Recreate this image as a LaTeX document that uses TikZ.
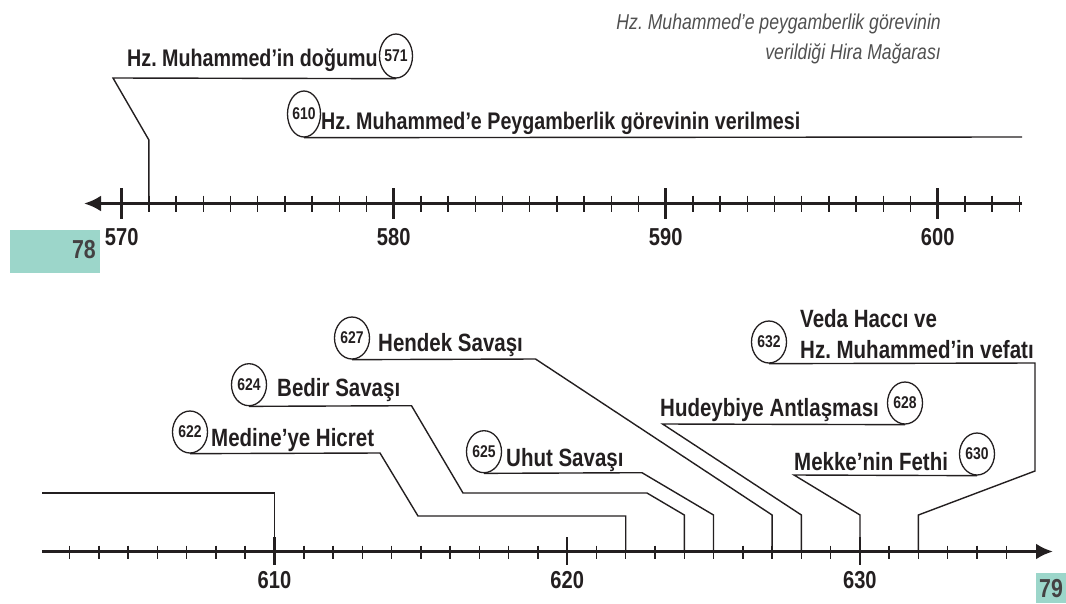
\documentclass[tikz,border=0pt]{standalone}
\usepackage{fontspec}
\setmainfont{Liberation Sans}[FakeStretch=0.82]
\usetikzlibrary{positioning}
\usetikzlibrary{arrows.meta,shapes.geometric}
\definecolor{ink}{RGB}{35,31,32}
\definecolor{pagetab}{RGB}{156,214,202}
\definecolor{notegray}{RGB}{80,80,80}
\frenchspacing

\begin{document}
\begin{tikzpicture}[x=1pt,y=-1pt,
  yearbub/.style={ellipse,draw=ink,line width=1.3pt,minimum width=35pt,minimum height=42pt,inner sep=0pt,text=ink,font=\fontsize{17}{17}\selectfont\bfseries},
  event/.style={anchor=base west,inner sep=0pt,text=ink,font=\fontsize{25}{28}\selectfont\bfseries},
  note/.style={anchor=base east,inner sep=0pt,text=notegray,font=\fontsize{21.5}{23}\selectfont\itshape},
  yearlbl/.style={anchor=base,inner sep=0pt,text=ink,font=\fontsize{24.5}{26}\selectfont\bfseries},
  pagenum/.style={anchor=base,inner sep=0pt,text=ink!85,font=\fontsize{26}{27}\selectfont\bfseries},
  axisline/.style={draw=ink,line width=3.2pt,-{Latex[length=17pt,width=16pt]}},
  minortick/.style={draw=ink,line width=1.5pt},
  majortick/.style={draw=ink,line width=2.5pt},
  link/.style={draw=ink,line width=1.4pt}]
\useasboundingbox (0,0) rectangle (1066,603);

% page tabs
\fill[pagetab] (10,230) rectangle (100,273);
\fill[pagetab] (1036,573) rectangle (1066,603);
\node[pagenum,anchor=base east] (p78) at (96,258) {78};
\node[pagenum] (p79) at (1051,597) {79};

% note on the cave
\node[note] (hira1) at (941,29) {Hz. Muhammed’e peygamberlik görevinin};
\node[note] (hira2) at (941,59) {verildiği Hira Mağarası};

% upper time line 570-603
\coordinate (topR) at (1022,203.5);
\coordinate (topL) at (84,203.5);
\foreach \yr in {571,...,603}
  \draw[minortick] ({121.7+(\yr-570)*27.2},195.5) -- ++(0,16);
\foreach \yr in {570,580,590,600}{
  \draw[majortick] ({121.7+(\yr-570)*27.2},188) -- ++(0,31);
  \node[yearlbl] (y\yr) at ({121.7+(\yr-570)*27.2},245) {\yr};
}
\draw[axisline] (topR) -- (topL);
\coordinate (t571) at (148.9,203.5);
\coordinate (end610) at (1022,137);

% lower time line 602-636
\coordinate (botL) at (42,551.5);
\coordinate (botR) at (1053,551.5);
\foreach \yr in {603,...,635}
  \draw[minortick] ({274.5+(\yr-610)*29.27},545.5) -- ++(0,13);
\foreach \yr in {610,620,630}{
  \draw[majortick] ({274.5+(\yr-610)*29.27},537) -- ++(0,28);
  \node[yearlbl] (y\yr) at ({274.5+(\yr-610)*29.27},588) {\yr};
}
\draw[axisline] (botL) -- (botR);
\coordinate (t610) at (274.5,551.5);
\coordinate (t622) at (625.7,551.5);
\coordinate (t624) at (684.3,551.5);
\coordinate (t625) at (713.5,551.5);
\coordinate (t627) at (772.1,551.5);
\coordinate (t628) at (801.4,551.5);
\coordinate (t630) at (860.0,551.5);
\coordinate (t632) at (918.4,551.5);
\coordinate (from610) at (42,493);

% events
\node[yearbub,minimum width=33pt,minimum height=44pt] (c571) at (396,56) {571};
\node[event,font=\fontsize{24}{27}\selectfont\bfseries] (l571) at (127,66) {Hz. Muhammed’in doğumu};
\node[yearbub,minimum width=33pt,minimum height=46pt] (c610) at (304,114) {610};
\node[event,font=\fontsize{24}{27}\selectfont\bfseries] (l610) at (321,129) {Hz. Muhammed’e Peygamberlik görevinin verilmesi};

\node[yearbub] (c622) at (190,432) {622};
\node[event] (l622) at (211,446) {Medine’ye Hicret};
\node[yearbub] (c624) at (249,384.7) {624};
\node[event] (l624) at (277,396) {Bedir Savaşı};
\node[yearbub] (c627) at (352,338) {627};
\node[event] (l627) at (378,351) {Hendek Savaşı};
\node[yearbub] (c625) at (484,451.7) {625};
\node[event] (l625) at (506,466) {Uhut Savaşı};
\node[yearbub] (c628) at (905,403) {628};
\node[event] (l628) at (660,416) {Hudeybiye Antlaşması};
\node[yearbub] (c630) at (977,454) {630};
\node[event] (l630) at (794,470) {Mekke’nin Fethi};
\node[yearbub] (c632) at (769,342) {632};
\node[event] (l632a) at (800,327) {Veda Haccı ve};
\node[event] (l632b) at (800,358) {Hz. Muhammed’in vefatı};

% connectors
\draw[link] (c571.south) -- (113,78) -- (148.9,140) -- (t571);
\draw[link] (c610.south) -- (end610);
\draw[link] (from610) -- (274.5,493) -- (t610);
\draw[link] (c622.south) -- (380,453) -- (418,516) -- (625.7,516) -- (t622);
\draw[link] (c624.south) -- (411.5,405.7) -- (463,493) -- (647,493) -- (684.3,515) -- (t624);
\draw[link] (c625.south) -- (642,472.7) -- (713.5,515) -- (t625);
\draw[link] (c627.south) -- (535.5,359) -- (772.1,515) -- (t627);
\draw[link] (c628.south) -- (662.6,424) -- (801.4,515) -- (t628);
\draw[link] (c630.south) -- (794,475) -- (860,515) -- (t630);
\draw[link] (c632.south) -- (1035,363) -- (1035,471) -- (918.4,515) -- (t632);
\end{tikzpicture}
\end{document}
